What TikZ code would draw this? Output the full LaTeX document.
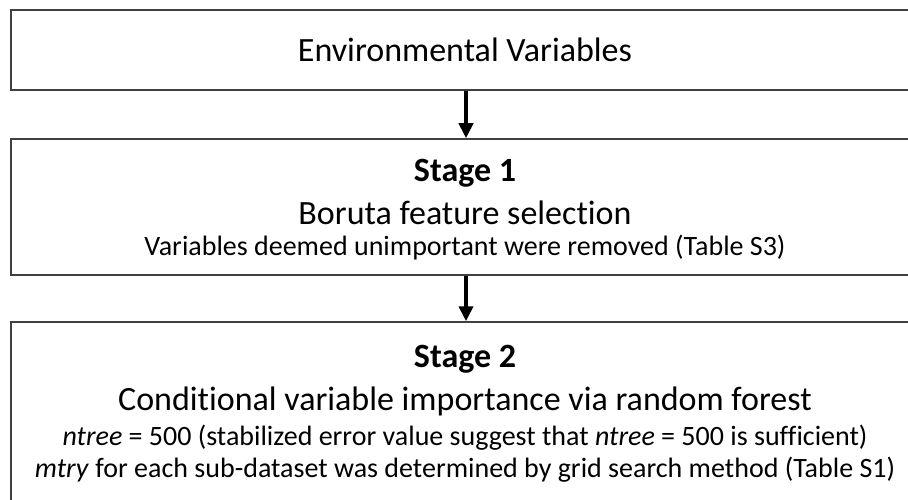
\documentclass[tikz,border=0pt]{standalone}
\usepackage{fontspec}
\setmainfont{Carlito}[Ligatures={NoCommon}]
\usetikzlibrary{arrows.meta}
\begin{document}
\begin{tikzpicture}[x=1pt,y=-1pt,
  boxstyle/.style={draw=black!75,line width=1.5pt,rectangle,inner sep=0pt},
  bigtext/.style={anchor=base,inner sep=0pt,font=\fontsize{34}{36}\selectfont},
  smalltext/.style={anchor=base,inner sep=0pt,font=\fontsize{28}{30}\selectfont},
  flowarrow/.style={line width=4pt,-{Triangle[width=14pt,length=15pt]},black}]
\useasboundingbox (0,0) rectangle (908,500);
\clip (0,0) rectangle (908,500);
\fill[white] (0,0) rectangle (908,500);
\node[boxstyle,minimum width=909pt,minimum height=80pt] (b1) at (465.5,50) {};
\node[boxstyle,minimum width=909pt,minimum height=136pt] (b2) at (465.5,207) {};
\node[boxstyle,minimum width=909pt,minimum height=190pt] (b3) at (465.5,417) {};
\node[bigtext] (t1) at (465,62) {Environmental Variables};
\node[bigtext] (s1) at (465,182) {\bfseries Stage 1};
\node[bigtext] (s1a) at (465,224) {Boruta feature selection};
\node[smalltext] (s1b) at (465,255) {Variables deemed unimportant were removed (Table S3)};
\node[bigtext] (s2) at (465,367) {\bfseries Stage 2};
\node[bigtext] (s2a) at (465,410) {Conditional variable importance via random forest};
\node[smalltext] (s2b) at (465,445) {\textit{ntree} = 500 (stabilized error value suggest that \textit{ntree} = 500 is sufficient)};
\node[smalltext] (s2c) at (465,477) {\textit{mtry} for each sub-dataset was determined by grid search method (Table S1)};
\draw[flowarrow] (b1.south -| 466,0) -- (b2.north -| 466,0);
\draw[flowarrow] (b2.south -| 466,0) -- (b3.north -| 466,0);
\end{tikzpicture}
\end{document}
